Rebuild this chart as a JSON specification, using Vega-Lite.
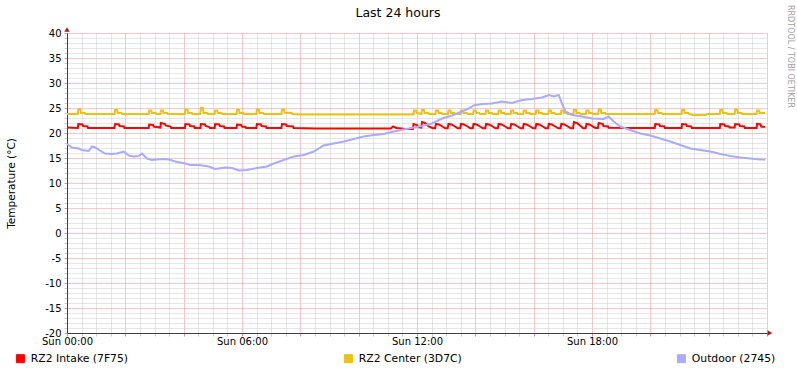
{
"$schema": "https://vega.github.io/schema/vega-lite/v6.json",
"width": 700, "height": 300, "autosize": "none",
"padding": {"left": 67, "top": 33, "right": 30, "bottom": 40},
"background": "#ffffff",
"config": {"font": "DejaVu Sans", "view": {"stroke": null}},
"title": {"text": "Last 24 hours", "fontSize": 12.5, "fontWeight": "normal", "color": "#000000", "frame": "group", "anchor": "middle", "dx": -19, "offset": -15},
"datasets": {
"intake": [
{"h":0,"v":21.1},{"h":0.37,"v":21.0},{"h":0.39,"v":21.8},{"h":0.53,"v":21.7},{"h":0.55,"v":21.4},{"h":0.70,"v":21.3},{"h":0.72,"v":21.0},
{"h":1.62,"v":21.0},{"h":1.65,"v":21.8},{"h":1.78,"v":21.7},{"h":1.80,"v":21.4},{"h":1.95,"v":21.3},{"h":1.97,"v":21.0},
{"h":2.80,"v":21.0},{"h":2.82,"v":21.7},{"h":2.95,"v":21.6},{"h":2.97,"v":21.3},{"h":3.20,"v":21.1},{"h":3.22,"v":22.0},{"h":3.36,"v":21.8},{"h":3.38,"v":21.5},{"h":3.55,"v":21.3},{"h":3.57,"v":21.0},
{"h":4.04,"v":21.0},{"h":4.06,"v":21.8},{"h":4.20,"v":21.7},{"h":4.22,"v":21.4},{"h":4.36,"v":21.3},{"h":4.38,"v":21.0},
{"h":4.57,"v":21.0},{"h":4.59,"v":21.8},{"h":4.73,"v":21.7},{"h":4.75,"v":21.4},{"h":4.88,"v":21.2},{"h":4.90,"v":21.0},
{"h":5.06,"v":21.0},{"h":5.08,"v":21.8},{"h":5.22,"v":21.7},{"h":5.24,"v":21.4},{"h":5.38,"v":21.3},{"h":5.40,"v":21.0},
{"h":5.81,"v":21.0},{"h":5.83,"v":21.7},{"h":5.97,"v":21.6},{"h":5.99,"v":21.3},{"h":6.12,"v":21.2},{"h":6.14,"v":21.0},
{"h":6.49,"v":21.0},{"h":6.51,"v":21.8},{"h":6.65,"v":21.7},{"h":6.67,"v":21.4},{"h":6.82,"v":21.3},{"h":6.84,"v":21.0},
{"h":7.35,"v":21.0},{"h":7.37,"v":21.8},{"h":7.51,"v":21.7},{"h":7.53,"v":21.4},{"h":7.75,"v":21.3},{"h":7.77,"v":21.0},
{"h":8.5,"v":20.9},{"h":11.1,"v":20.9},{"h":11.18,"v":21.3},{"h":11.3,"v":21.0},{"h":11.6,"v":20.8},{"h":11.86,"v":20.8},{"h":11.88,"v":21.8},{"h":12.0,"v":21.6},{"h":12.05,"v":21.2},{"h":12.15,"v":21.1},{"h":12.17,"v":22.2},{"h":12.27,"v":22.0},{"h":12.40,"v":21.3},{"h":12.55,"v":20.95},
{"h":12.62,"v":20.95},{"h":12.65,"v":21.8},{"h":12.75,"v":21.7},{"h":12.90,"v":21.2},{"h":12.97,"v":20.95},
{"h":13.05,"v":20.95},{"h":13.08,"v":21.8},{"h":13.18,"v":21.7},{"h":13.33,"v":21.2},{"h":13.40,"v":20.95},
{"h":13.48,"v":20.95},{"h":13.51,"v":21.8},{"h":13.61,"v":21.7},{"h":13.76,"v":21.2},{"h":13.83,"v":20.95},
{"h":13.91,"v":20.95},{"h":13.94,"v":21.8},{"h":14.04,"v":21.7},{"h":14.19,"v":21.2},{"h":14.26,"v":20.95},
{"h":14.34,"v":20.95},{"h":14.37,"v":21.8},{"h":14.47,"v":21.7},{"h":14.62,"v":21.2},{"h":14.69,"v":20.95},
{"h":14.77,"v":20.95},{"h":14.80,"v":21.8},{"h":14.90,"v":21.7},{"h":15.05,"v":21.2},{"h":15.12,"v":20.95},
{"h":15.20,"v":20.95},{"h":15.23,"v":21.8},{"h":15.33,"v":21.7},{"h":15.48,"v":21.2},{"h":15.55,"v":20.95},
{"h":15.63,"v":20.95},{"h":15.66,"v":21.8},{"h":15.76,"v":21.7},{"h":15.91,"v":21.2},{"h":15.98,"v":20.95},
{"h":16.06,"v":20.95},{"h":16.09,"v":21.8},{"h":16.19,"v":21.7},{"h":16.34,"v":21.2},{"h":16.41,"v":20.95},
{"h":16.49,"v":20.95},{"h":16.52,"v":21.8},{"h":16.62,"v":21.7},{"h":16.77,"v":21.2},{"h":16.84,"v":20.95},
{"h":16.92,"v":20.95},{"h":16.95,"v":21.8},{"h":17.05,"v":21.7},{"h":17.20,"v":21.2},{"h":17.27,"v":20.95},
{"h":17.35,"v":20.95},{"h":17.38,"v":22.2},{"h":17.48,"v":22.0},{"h":17.63,"v":21.3},{"h":17.70,"v":20.95},
{"h":17.78,"v":20.95},{"h":17.81,"v":21.8},{"h":17.91,"v":21.7},{"h":18.06,"v":21.2},{"h":18.13,"v":21.0},
{"h":18.20,"v":21.0},{"h":18.23,"v":22.0},{"h":18.37,"v":21.8},{"h":18.39,"v":21.4},{"h":18.55,"v":21.3},{"h":18.57,"v":21.05},
{"h":19.5,"v":21.0},
{"h":20.15,"v":21.0},{"h":20.17,"v":21.8},{"h":20.31,"v":21.7},{"h":20.33,"v":21.4},{"h":20.48,"v":21.3},{"h":20.50,"v":21.0},
{"h":21.07,"v":21.0},{"h":21.09,"v":21.8},{"h":21.23,"v":21.7},{"h":21.25,"v":21.4},{"h":21.40,"v":21.3},{"h":21.42,"v":21.0},
{"h":22.38,"v":21.0},{"h":22.40,"v":21.8},{"h":22.54,"v":21.7},{"h":22.56,"v":21.4},{"h":22.70,"v":21.3},{"h":22.72,"v":21.1},
{"h":22.89,"v":21.1},{"h":22.91,"v":21.8},{"h":23.05,"v":21.7},{"h":23.07,"v":21.4},{"h":23.22,"v":21.3},{"h":23.24,"v":21.0},
{"h":23.64,"v":21.0},{"h":23.66,"v":21.8},{"h":23.78,"v":21.7},{"h":23.80,"v":21.3},{"h":23.93,"v":21.2}
],
"center": [
{"h":0,"v":23.8},
{"h":0.37,"v":23.8},{"h":0.39,"v":24.7},{"h":0.46,"v":24.7},{"h":0.48,"v":24.0},{"h":0.61,"v":24.0},{"h":0.63,"v":23.8},
{"h":1.63,"v":23.8},{"h":1.65,"v":24.6},{"h":1.72,"v":24.6},{"h":1.74,"v":24.0},{"h":1.87,"v":24.0},{"h":1.89,"v":23.8},
{"h":2.80,"v":23.8},{"h":2.82,"v":24.5},{"h":2.89,"v":24.5},{"h":2.91,"v":24.0},{"h":3.04,"v":24.0},{"h":3.06,"v":23.8},
{"h":3.20,"v":23.8},{"h":3.22,"v":24.5},{"h":3.29,"v":24.5},{"h":3.31,"v":24.0},{"h":3.44,"v":24.0},{"h":3.46,"v":23.8},
{"h":4.04,"v":23.8},{"h":4.06,"v":24.7},{"h":4.13,"v":24.7},{"h":4.15,"v":24.0},{"h":4.28,"v":24.0},{"h":4.30,"v":23.8},
{"h":4.57,"v":23.8},{"h":4.59,"v":25.0},{"h":4.66,"v":25.0},{"h":4.68,"v":24.0},{"h":4.81,"v":24.0},{"h":4.83,"v":23.8},
{"h":5.06,"v":23.8},{"h":5.08,"v":24.5},{"h":5.15,"v":24.5},{"h":5.17,"v":24.0},{"h":5.30,"v":24.0},{"h":5.32,"v":23.8},
{"h":5.81,"v":23.8},{"h":5.83,"v":24.6},{"h":5.90,"v":24.6},{"h":5.92,"v":24.0},{"h":6.05,"v":24.0},{"h":6.07,"v":23.8},
{"h":6.49,"v":23.8},{"h":6.51,"v":24.7},{"h":6.58,"v":24.7},{"h":6.60,"v":24.0},{"h":6.73,"v":24.0},{"h":6.75,"v":23.8},
{"h":7.35,"v":23.8},{"h":7.37,"v":24.7},{"h":7.44,"v":24.7},{"h":7.46,"v":24.1},{"h":7.70,"v":24.0},{"h":7.72,"v":23.8},
{"h":8.0,"v":23.7},{"h":11.5,"v":23.7},
{"h":11.88,"v":23.7},{"h":11.90,"v":24.5},{"h":11.97,"v":24.5},{"h":11.99,"v":24.0},{"h":12.10,"v":23.9},{"h":12.15,"v":23.8},
{"h":12.17,"v":24.6},{"h":12.24,"v":24.6},{"h":12.26,"v":24.0},{"h":12.39,"v":24.0},{"h":12.41,"v":23.8},
{"h":12.63,"v":23.8},{"h":12.65,"v":24.5},{"h":12.72,"v":24.5},{"h":12.74,"v":24.0},{"h":12.85,"v":24.0},{"h":12.87,"v":23.8},
{"h":13.06,"v":23.8},{"h":13.08,"v":24.5},{"h":13.15,"v":24.5},{"h":13.17,"v":24.0},{"h":13.28,"v":24.0},{"h":13.30,"v":23.8},
{"h":13.49,"v":23.8},{"h":13.51,"v":24.5},{"h":13.58,"v":24.5},{"h":13.60,"v":24.0},{"h":13.71,"v":24.0},{"h":13.73,"v":23.8},
{"h":13.92,"v":23.8},{"h":13.94,"v":24.5},{"h":14.01,"v":24.5},{"h":14.03,"v":24.0},{"h":14.14,"v":24.0},{"h":14.16,"v":23.8},
{"h":14.35,"v":23.8},{"h":14.37,"v":24.5},{"h":14.44,"v":24.5},{"h":14.46,"v":24.0},{"h":14.57,"v":24.0},{"h":14.59,"v":23.8},
{"h":14.78,"v":23.8},{"h":14.80,"v":24.5},{"h":14.87,"v":24.5},{"h":14.89,"v":24.0},{"h":15.00,"v":24.0},{"h":15.02,"v":23.8},
{"h":15.21,"v":23.8},{"h":15.23,"v":24.5},{"h":15.30,"v":24.5},{"h":15.32,"v":24.0},{"h":15.43,"v":24.0},{"h":15.45,"v":23.8},
{"h":15.64,"v":23.8},{"h":15.66,"v":24.5},{"h":15.73,"v":24.5},{"h":15.75,"v":24.0},{"h":15.86,"v":24.0},{"h":15.88,"v":23.8},
{"h":16.07,"v":23.8},{"h":16.09,"v":24.5},{"h":16.16,"v":24.5},{"h":16.18,"v":24.0},{"h":16.29,"v":24.0},{"h":16.31,"v":23.8},
{"h":16.50,"v":23.8},{"h":16.52,"v":24.5},{"h":16.59,"v":24.5},{"h":16.61,"v":24.0},{"h":16.72,"v":24.0},{"h":16.74,"v":23.8},
{"h":16.93,"v":23.8},{"h":16.95,"v":24.5},{"h":17.02,"v":24.5},{"h":17.04,"v":24.0},{"h":17.15,"v":24.0},{"h":17.17,"v":23.8},
{"h":17.36,"v":23.8},{"h":17.38,"v":24.6},{"h":17.45,"v":24.6},{"h":17.47,"v":24.0},{"h":17.58,"v":24.0},{"h":17.60,"v":23.8},
{"h":17.79,"v":23.8},{"h":17.81,"v":24.5},{"h":17.88,"v":24.5},{"h":17.90,"v":24.0},{"h":18.01,"v":24.0},{"h":18.03,"v":23.8},
{"h":18.21,"v":23.8},{"h":18.23,"v":24.7},{"h":18.30,"v":24.7},{"h":18.32,"v":24.0},{"h":18.45,"v":24.0},{"h":18.47,"v":23.8},
{"h":20.15,"v":23.8},{"h":20.17,"v":24.6},{"h":20.24,"v":24.6},{"h":20.26,"v":24.0},{"h":20.39,"v":24.0},{"h":20.41,"v":23.8},
{"h":21.07,"v":23.8},{"h":21.09,"v":24.6},{"h":21.16,"v":24.6},{"h":21.18,"v":24.0},{"h":21.31,"v":24.0},{"h":21.33,"v":23.8},
{"h":21.40,"v":23.7},{"h":21.45,"v":23.6},{"h":21.90,"v":23.6},{"h":21.95,"v":23.8},
{"h":22.38,"v":23.8},{"h":22.40,"v":24.6},{"h":22.47,"v":24.6},{"h":22.49,"v":24.0},{"h":22.62,"v":24.0},{"h":22.64,"v":23.8},
{"h":22.89,"v":23.8},{"h":22.91,"v":24.7},{"h":22.98,"v":24.7},{"h":23.00,"v":24.0},{"h":23.13,"v":24.0},{"h":23.15,"v":23.8},
{"h":23.64,"v":23.8},{"h":23.66,"v":24.5},{"h":23.73,"v":24.5},{"h":23.75,"v":24.0},{"h":23.88,"v":24.0},{"h":23.93,"v":24.0}
],
"outdoor": [
{"h":0.00,"v":17.8},{"h":0.17,"v":17.1},{"h":0.40,"v":16.9},{"h":0.51,"v":16.6},{"h":0.74,"v":16.4},{"h":0.86,"v":17.3},{"h":0.97,"v":17.1},{"h":1.13,"v":16.5},{"h":1.30,"v":15.9},{"h":1.54,"v":15.8},{"h":1.71,"v":15.9},{"h":1.94,"v":16.3},{"h":2.12,"v":15.5},{"h":2.29,"v":15.3},{"h":2.46,"v":15.4},{"h":2.57,"v":15.9},{"h":2.74,"v":14.9},{"h":2.91,"v":14.6},{"h":3.26,"v":14.8},{"h":3.49,"v":14.7},{"h":3.71,"v":14.3},{"h":4.06,"v":13.9},{"h":4.23,"v":13.6},{"h":4.52,"v":13.6},{"h":4.86,"v":13.3},{"h":5.08,"v":12.8},{"h":5.43,"v":13.1},{"h":5.66,"v":13.0},{"h":5.89,"v":12.5},{"h":6.17,"v":12.6},{"h":6.51,"v":13.0},{"h":6.86,"v":13.3},{"h":7.09,"v":13.9},{"h":7.43,"v":14.6},{"h":7.77,"v":15.3},{"h":8.12,"v":15.6},{"h":8.46,"v":16.3},{"h":8.80,"v":17.5},{"h":9.14,"v":17.9},{"h":9.49,"v":18.3},{"h":9.83,"v":18.8},{"h":10.17,"v":19.3},{"h":10.52,"v":19.6},{"h":10.86,"v":19.8},{"h":11.20,"v":20.3},{"h":11.54,"v":20.7},{"h":11.89,"v":21.1},{"h":12.17,"v":21.4},{"h":12.51,"v":21.9},{"h":12.86,"v":22.9},{"h":13.20,"v":23.5},{"h":13.54,"v":24.3},{"h":13.77,"v":24.9},{"h":13.94,"v":25.5},{"h":14.23,"v":25.8},{"h":14.57,"v":25.9},{"h":14.91,"v":26.3},{"h":15.26,"v":26.0},{"h":15.60,"v":26.6},{"h":15.94,"v":26.8},{"h":16.29,"v":27.1},{"h":16.52,"v":27.6},{"h":16.69,"v":27.3},{"h":16.86,"v":27.6},{"h":16.97,"v":25.9},{"h":17.09,"v":24.3},{"h":17.31,"v":23.6},{"h":17.66,"v":23.3},{"h":18.00,"v":22.9},{"h":18.40,"v":22.8},{"h":18.57,"v":23.3},{"h":18.74,"v":22.3},{"h":18.97,"v":21.3},{"h":19.31,"v":20.6},{"h":19.66,"v":19.9},{"h":20.00,"v":19.5},{"h":20.34,"v":18.9},{"h":20.68,"v":18.3},{"h":21.03,"v":17.6},{"h":21.37,"v":16.9},{"h":21.71,"v":16.6},{"h":22.06,"v":16.3},{"h":22.40,"v":15.8},{"h":22.74,"v":15.4},{"h":23.09,"v":15.1},{"h":23.43,"v":14.9},{"h":23.77,"v":14.7},{"h":23.94,"v":14.7}
]
},
"encoding": {
"x": {"field": "h", "type": "quantitative",
 "scale": {"domain": [0, 24], "nice": false, "zero": false},
 "axis": {"title": null,
  "values": [0,0.5,1,1.5,2,2.5,3,3.5,4,4.5,5,5.5,6,6.5,7,7.5,8,8.5,9,9.5,10,10.5,11,11.5,12,12.5,13,13.5,14,14.5,15,15.5,16,16.5,17,17.5,18,18.5,19,19.5,20,20.5,21,21.5,22,22.5,23,23.5,24],
  "grid": true, "gridDash": [1,1], "gridWidth": 1,
  "gridColor": {"condition": {"test": "datum.value % 2 == 0", "value": "#E49494"}, "value": "#CCCCCC"},
  "tickSize": 3,
  "tickColor": {"condition": {"test": "datum.value % 2 == 0", "value": "#E49494"}, "value": "#CCCCCC"},
  "domainColor": "#404040",
  "labelExpr": "datum.value % 6 == 0 && datum.value < 24 ? 'Sun ' + (datum.value < 10 ? '0' : '') + datum.value + ':00' : ''",
  "labelFontSize": 10, "labelColor": "#000000", "labelPadding": 0,
  "labelOverlap": false, "labelFlush": false, "labelBound": false}}
},
"layer": [
{"data": {"name": "intake"},
 "mark": {"type": "line", "strokeWidth": 2},
 "encoding": {
  "y": {"field": "v", "type": "quantitative",
   "scale": {"domain": [-20, 40], "nice": false, "zero": false},
   "axis": {"title": "Temperature (°C)", "titleFontSize": 10.5, "titleFontWeight": "normal", "titleColor": "#000000", "titlePadding": 28,
    "values": [-20,-19,-18,-17,-16,-15,-14,-13,-12,-11,-10,-9,-8,-7,-6,-5,-4,-3,-2,-1,0,1,2,3,4,5,6,7,8,9,10,11,12,13,14,15,16,17,18,19,20,21,22,23,24,25,26,27,28,29,30,31,32,33,34,35,36,37,38,39,40],
    "grid": true, "gridDash": [1,1], "gridWidth": 1,
    "gridColor": {"condition": {"test": "datum.value % 5 == 0", "value": "#E49494"}, "value": "#CCCCCC"},
    "tickSize": 3,
    "tickColor": {"condition": {"test": "datum.value % 5 == 0", "value": "#E49494"}, "value": "#CCCCCC"},
    "domainColor": "#404040",
    "labelExpr": "datum.value % 5 == 0 ? '' + datum.value : ''",
    "labelFontSize": 10, "labelColor": "#000000", "labelPadding": 3,
    "labelOverlap": false, "labelFlush": false, "labelBound": false}},
  "color": {"datum": "RZ2 Intake (7F75)", "type": "nominal",
   "scale": {"domain": ["RZ2 Intake (7F75)", "RZ2 Center (3D7C)", "Outdoor (2745)"], "range": ["#FF0000", "#EAC117", "#AAAAFF"]},
   "legend": {"orient": "none", "legendX": -52, "legendY": 320, "direction": "horizontal", "title": null, "padding": 0,
    "columnPadding": 213, "labelFontSize": 10.8, "labelColor": "#000000", "labelOffset": 5,
    "symbolType": "square", "symbolSize": 64, "symbolStrokeWidth": 1,
    "encode": {"symbols": {"update": {"fill": {"scale": "color", "field": "value"}, "stroke": {"value": "#000000"}, "strokeWidth": {"value": 1}, "opacity": {"value": 1}, "shape": {"value": "square"}}}}}}
 }},
{"data": {"name": "center"},
 "mark": {"type": "line", "strokeWidth": 2},
 "encoding": {
  "y": {"field": "v", "type": "quantitative", "scale": {"domain": [-20, 40], "nice": false, "zero": false}, "axis": null},
  "color": {"datum": "RZ2 Center (3D7C)", "type": "nominal"}
 }},
{"data": {"name": "outdoor"},
 "mark": {"type": "line", "strokeWidth": 2},
 "encoding": {
  "y": {"field": "v", "type": "quantitative", "scale": {"domain": [-20, 40], "nice": false, "zero": false}, "axis": null},
  "color": {"datum": "Outdoor (2745)", "type": "nominal"}
 }},
{"data": {"values": [{"h": 0, "v": 40.7}]},
 "mark": {"type": "point", "shape": "triangle-up", "filled": true, "size": 30, "color": "#A02020", "opacity": 1},
 "encoding": {
  "y": {"field": "v", "type": "quantitative", "scale": {"domain": [-20, 40], "nice": false, "zero": false},
   "axis": {"orient": "right", "title": "RRDTOOL / TOBI OETIKER", "domain": false, "ticks": false, "labels": false, "grid": false,
    "titleColor": "#A0A0A0", "titleFontSize": 8, "titleFontWeight": "normal", "titleAngle": 90,
    "titleX": 22, "titleY": 23, "titleAlign": "center", "titleBaseline": "middle"}}
 }},
{"data": {"values": [{"h": 24.1, "v": -20}]},
 "mark": {"type": "point", "shape": "triangle-right", "filled": true, "size": 30, "color": "#A02020", "opacity": 1},
 "encoding": {
  "y": {"field": "v", "type": "quantitative", "scale": {"domain": [-20, 40], "nice": false, "zero": false}, "axis": null}
 }}
],
"resolve": {"axis": {"y": "independent"}}
}
